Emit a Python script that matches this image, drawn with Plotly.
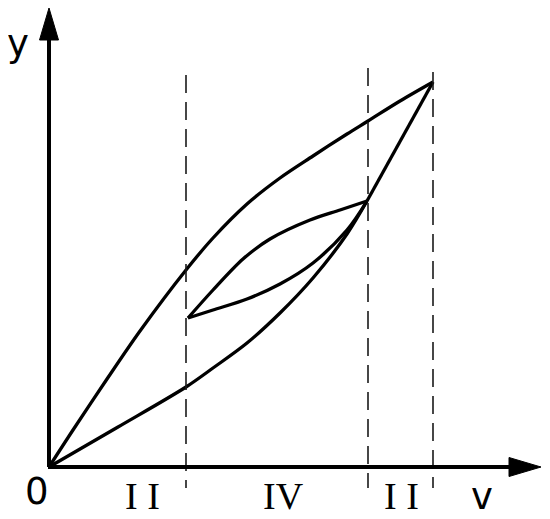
import plotly.graph_objects as go

# ---- data (v, y in plot units; origin at axis corner) ----
upper_v = [0, 24, 58, 91, 137, 164, 198, 231, 264, 298, 319, 351, 384]
upper_y = [0, 37, 88, 136, 197, 229, 263, 289, 311, 333, 346, 366, 385]

lower_v = [0, 69, 137, 164, 198, 231, 264, 298, 318]
lower_y = [0, 40, 80, 99, 124, 154, 189, 233, 266]

link_v = [318, 384]
link_y = [266, 385]

inner_up_v = [139, 164, 194, 221, 261, 291, 318]
inner_up_y = [149, 177, 208, 228, 247, 257, 266]
inner_lo_v = [139, 164, 198, 231, 264, 298, 318]
inner_lo_y = [149, 157, 168, 183, 204, 237, 266]

region_bounds = [137, 319, 384]
region_labels = ["I I", "IV", "I I"]
region_label_v = [93, 234, 352]

# ---- figure (page body has an 8px margin) ----
W, H = 542, 511
ox, oy = 41, 459           # pixel location of origin inside the figure
x_range = [-ox, W - ox]
y_range = [oy - H, oy]

fig = go.Figure()

curve = dict(color="black", width=3.3)
spl = dict(shape="spline", smoothing=0.9)
fig.add_trace(go.Scatter(x=upper_v, y=upper_y, mode="lines", line=dict(**curve, **spl)))
fig.add_trace(go.Scatter(x=lower_v, y=lower_y, mode="lines", line=dict(**curve, **spl)))
fig.add_trace(go.Scatter(x=link_v, y=link_y, mode="lines", line=curve))
fig.add_trace(go.Scatter(x=inner_up_v, y=inner_up_y, mode="lines", line=dict(**curve, **spl)))
fig.add_trace(go.Scatter(x=inner_lo_v, y=inner_lo_y, mode="lines", line=dict(**curve, **spl)))

# dashed region boundaries
dash_tops = [392, 399, 395]
for xv, top in zip(region_bounds, dash_tops):
    fig.add_trace(go.Scatter(x=[xv, xv], y=[top, -21], mode="lines",
                             line=dict(color="#1a1a1a", width=1.6, dash="18px,9px")))

# axes with arrowheads
x_tip, y_tip = 492, 459
head_len, head_half = 32, 9.5
fig.add_trace(go.Scatter(x=[0, 0], y=[0, y_tip - head_len + 2], mode="lines",
                         line=dict(color="black", width=4)))
fig.add_trace(go.Scatter(x=[-1, x_tip - head_len + 2], y=[0, 0], mode="lines",
                         line=dict(color="black", width=4)))
fig.add_trace(go.Scatter(x=[0, -head_half, head_half, 0],
                         y=[y_tip, y_tip - head_len, y_tip - head_len, y_tip],
                         mode="lines", fill="toself", fillcolor="black",
                         line=dict(color="black", width=1)))
fig.add_trace(go.Scatter(x=[x_tip, x_tip - head_len, x_tip - head_len, x_tip],
                         y=[0, head_half, -head_half, 0],
                         mode="lines", fill="toself", fillcolor="black",
                         line=dict(color="black", width=1)))

sans = dict(family="DejaVu Sans", size=37, color="black")
serif = dict(family="Liberation Serif", size=38, color="black")
ann = [
    dict(x=-31, y=424, text="y", font=sans),
    dict(x=-12, y=-24, text="0", font=sans),
    dict(x=433, y=-29, text="v", font=sans),
]
for t, xv in zip(region_labels, region_label_v):
    ann.append(dict(x=xv, y=-29, text=t, font=serif))
for a in ann:
    a.update(xref="x", yref="y", showarrow=False, xanchor="center", yanchor="middle")

fig.update_layout(
    width=W, height=H, margin=dict(l=0, r=0, t=0, b=0),
    paper_bgcolor="white", plot_bgcolor="white", showlegend=False,
    xaxis=dict(range=x_range, visible=False, fixedrange=True),
    yaxis=dict(range=y_range, visible=False, fixedrange=True),
    annotations=ann,
)
fig.write_html("out.html")
